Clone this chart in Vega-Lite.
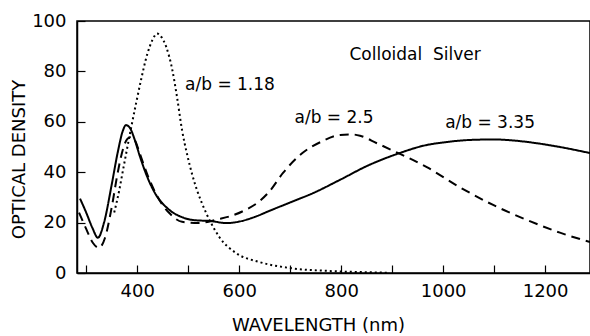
{
  "$schema": "https://vega.github.io/schema/vega-lite/v6.json",
  "width": 513,
  "height": 252,
  "autosize": {"type": "none"},
  "padding": {"left": 77, "top": 21, "right": 0, "bottom": 63},
  "background": "white",
  "config": {
    "view": {"stroke": "black", "strokeWidth": 1.5},
    "font": "DejaVu Sans",
    "axis": {
      "domainColor": "black", "domainWidth": 1.5,
      "tickColor": "black", "tickWidth": 1.2,
      "labelColor": "black", "titleColor": "black",
      "labelFont": "DejaVu Sans", "titleFont": "DejaVu Sans",
      "labelFontSize": 18, "titleFontSize": 18, "titleFontWeight": "normal",
      "grid": false
    }
  },
  "datasets": {
    "curves": [
      {"series": "1.18", "wl": 355, "od": 24},
      {"series": "1.18", "wl": 365, "od": 33},
      {"series": "1.18", "wl": 371, "od": 39.5},
      {"series": "1.18", "wl": 378, "od": 47},
      {"series": "1.18", "wl": 388, "od": 57.5},
      {"series": "1.18", "wl": 398, "od": 67.5},
      {"series": "1.18", "wl": 408, "od": 77},
      {"series": "1.18", "wl": 420, "od": 87},
      {"series": "1.18", "wl": 430, "od": 92.5},
      {"series": "1.18", "wl": 439, "od": 95},
      {"series": "1.18", "wl": 448, "od": 93.5},
      {"series": "1.18", "wl": 457, "od": 89.7},
      {"series": "1.18", "wl": 469, "od": 80.5},
      {"series": "1.18", "wl": 478, "od": 70},
      {"series": "1.18", "wl": 488, "od": 56.7},
      {"series": "1.18", "wl": 498, "od": 47},
      {"series": "1.18", "wl": 508, "od": 39},
      {"series": "1.18", "wl": 518, "od": 32.5},
      {"series": "1.18", "wl": 527, "od": 27.7},
      {"series": "1.18", "wl": 545, "od": 19.8},
      {"series": "1.18", "wl": 561, "od": 14.3},
      {"series": "1.18", "wl": 594, "od": 7.9},
      {"series": "1.18", "wl": 639, "od": 4.4},
      {"series": "1.18", "wl": 698, "od": 2},
      {"series": "1.18", "wl": 776, "od": 0.8},
      {"series": "1.18", "wl": 850, "od": 0.3},
      {"series": "1.18", "wl": 895, "od": 0.1},

      {"series": "2.5", "wl": 286, "od": 24},
      {"series": "2.5", "wl": 300, "od": 17.5},
      {"series": "2.5", "wl": 313, "od": 12},
      {"series": "2.5", "wl": 325, "od": 10},
      {"series": "2.5", "wl": 337, "od": 14},
      {"series": "2.5", "wl": 350, "od": 26},
      {"series": "2.5", "wl": 362, "od": 40},
      {"series": "2.5", "wl": 372, "od": 49},
      {"series": "2.5", "wl": 380, "od": 53},
      {"series": "2.5", "wl": 388, "od": 54},
      {"series": "2.5", "wl": 396, "od": 52.5},
      {"series": "2.5", "wl": 405, "od": 47.5},
      {"series": "2.5", "wl": 420, "od": 39},
      {"series": "2.5", "wl": 433, "od": 33},
      {"series": "2.5", "wl": 448, "od": 27.5},
      {"series": "2.5", "wl": 463, "od": 23.8},
      {"series": "2.5", "wl": 488, "od": 20.3},
      {"series": "2.5", "wl": 520, "od": 19.8},
      {"series": "2.5", "wl": 560, "od": 21.4},
      {"series": "2.5", "wl": 582, "od": 22.5},
      {"series": "2.5", "wl": 610, "od": 24.8},
      {"series": "2.5", "wl": 640, "od": 28.5},
      {"series": "2.5", "wl": 660, "od": 32.5},
      {"series": "2.5", "wl": 686, "od": 39.7},
      {"series": "2.5", "wl": 724, "od": 47.6},
      {"series": "2.5", "wl": 760, "od": 52},
      {"series": "2.5", "wl": 798, "od": 54.8},
      {"series": "2.5", "wl": 820, "od": 55},
      {"series": "2.5", "wl": 837, "od": 54.5},
      {"series": "2.5", "wl": 870, "od": 51.5},
      {"series": "2.5", "wl": 902, "od": 48.5},
      {"series": "2.5", "wl": 968, "od": 42},
      {"series": "2.5", "wl": 1033, "od": 34},
      {"series": "2.5", "wl": 1098, "od": 27},
      {"series": "2.5", "wl": 1165, "od": 21},
      {"series": "2.5", "wl": 1229, "od": 16},
      {"series": "2.5", "wl": 1288, "od": 12.3},

      {"series": "3.35", "wl": 288, "od": 29.5},
      {"series": "3.35", "wl": 300, "od": 24},
      {"series": "3.35", "wl": 312, "od": 18},
      {"series": "3.35", "wl": 323, "od": 14},
      {"series": "3.35", "wl": 335, "od": 20},
      {"series": "3.35", "wl": 350, "od": 35},
      {"series": "3.35", "wl": 362, "od": 48},
      {"series": "3.35", "wl": 372, "od": 56.5},
      {"series": "3.35", "wl": 378, "od": 58.7},
      {"series": "3.35", "wl": 386, "od": 57.5},
      {"series": "3.35", "wl": 395, "od": 53},
      {"series": "3.35", "wl": 405, "od": 46.5},
      {"series": "3.35", "wl": 420, "od": 38},
      {"series": "3.35", "wl": 437, "od": 31},
      {"series": "3.35", "wl": 455, "od": 26.5},
      {"series": "3.35", "wl": 470, "od": 24},
      {"series": "3.35", "wl": 490, "od": 22},
      {"series": "3.35", "wl": 510, "od": 21},
      {"series": "3.35", "wl": 545, "od": 20.6},
      {"series": "3.35", "wl": 575, "od": 19.8},
      {"series": "3.35", "wl": 600, "od": 20.4},
      {"series": "3.35", "wl": 630, "od": 22.2},
      {"series": "3.35", "wl": 661, "od": 24.8},
      {"series": "3.35", "wl": 700, "od": 28},
      {"series": "3.35", "wl": 745, "od": 31.7},
      {"series": "3.35", "wl": 798, "od": 37},
      {"series": "3.35", "wl": 851, "od": 42.5},
      {"series": "3.35", "wl": 912, "od": 47.4},
      {"series": "3.35", "wl": 968, "od": 50.8},
      {"series": "3.35", "wl": 1000, "od": 51.8},
      {"series": "3.35", "wl": 1053, "od": 52.8},
      {"series": "3.35", "wl": 1100, "od": 53},
      {"series": "3.35", "wl": 1131, "od": 52.7},
      {"series": "3.35", "wl": 1180, "od": 51.6},
      {"series": "3.35", "wl": 1229, "od": 50},
      {"series": "3.35", "wl": 1288, "od": 47.6}
    ],
    "labels": [
      {"label": "Colloidal \u00a0Silver", "wl": 945, "od": 86.5},
      {"label": "a/b = 1.18", "wl": 582, "od": 74.6},
      {"label": "a/b = 2.5", "wl": 786, "od": 61.5},
      {"label": "a/b = 3.35", "wl": 1092, "od": 59.5}
    ]
  },
  "layer": [
    {
      "data": {"name": "curves"},
      "mark": {"type": "line", "interpolate": "monotone", "strokeWidth": 2, "color": "black", "clip": true},
      "encoding": {
        "x": {
          "field": "wl", "type": "quantitative",
          "scale": {"domain": [282, 1288], "nice": false, "zero": false},
          "axis": {
            "title": "WAVELENGTH (nm)",
            "values": [300, 400, 500, 600, 700, 800, 900, 1000, 1100, 1200],
            "labelExpr": "datum.value % 200 == 0 ? datum.label : ''",
            "format": "d",
            "tickSize": -8,
            "labelPadding": 17,
            "labelFlush": false,
            "titleX": 241,
            "titleY": 52,
            "titleAlign": "center",
            "titleBaseline": "middle"
          }
        },
        "y": {
          "field": "od", "type": "quantitative",
          "scale": {"domain": [0, 100], "nice": false},
          "axis": {
            "title": "OPTICAL DENSITY",
            "values": [0, 20, 40, 60, 80, 100],
            "tickSize": -8,
            "labelPadding": 19,
            "labelFlush": false,
            "titleX": -58,
            "titleY": 138,
            "titleAngle": -90,
            "titleAlign": "center",
            "titleBaseline": "middle"
          }
        },
        "detail": {"field": "series"},
        "strokeDash": {
          "field": "series", "type": "nominal",
          "scale": {"domain": ["1.18", "2.5", "3.35"], "range": [[2, 3], [9, 6], [1, 0]]},
          "legend": null
        }
      }
    },
    {
      "data": {"name": "labels"},
      "mark": {"type": "text", "font": "DejaVu Sans", "fontSize": 17, "color": "black", "align": "center", "baseline": "middle"},
      "encoding": {
        "x": {"field": "wl", "type": "quantitative"},
        "y": {"field": "od", "type": "quantitative"},
        "text": {"field": "label"}
      }
    }
  ]
}
